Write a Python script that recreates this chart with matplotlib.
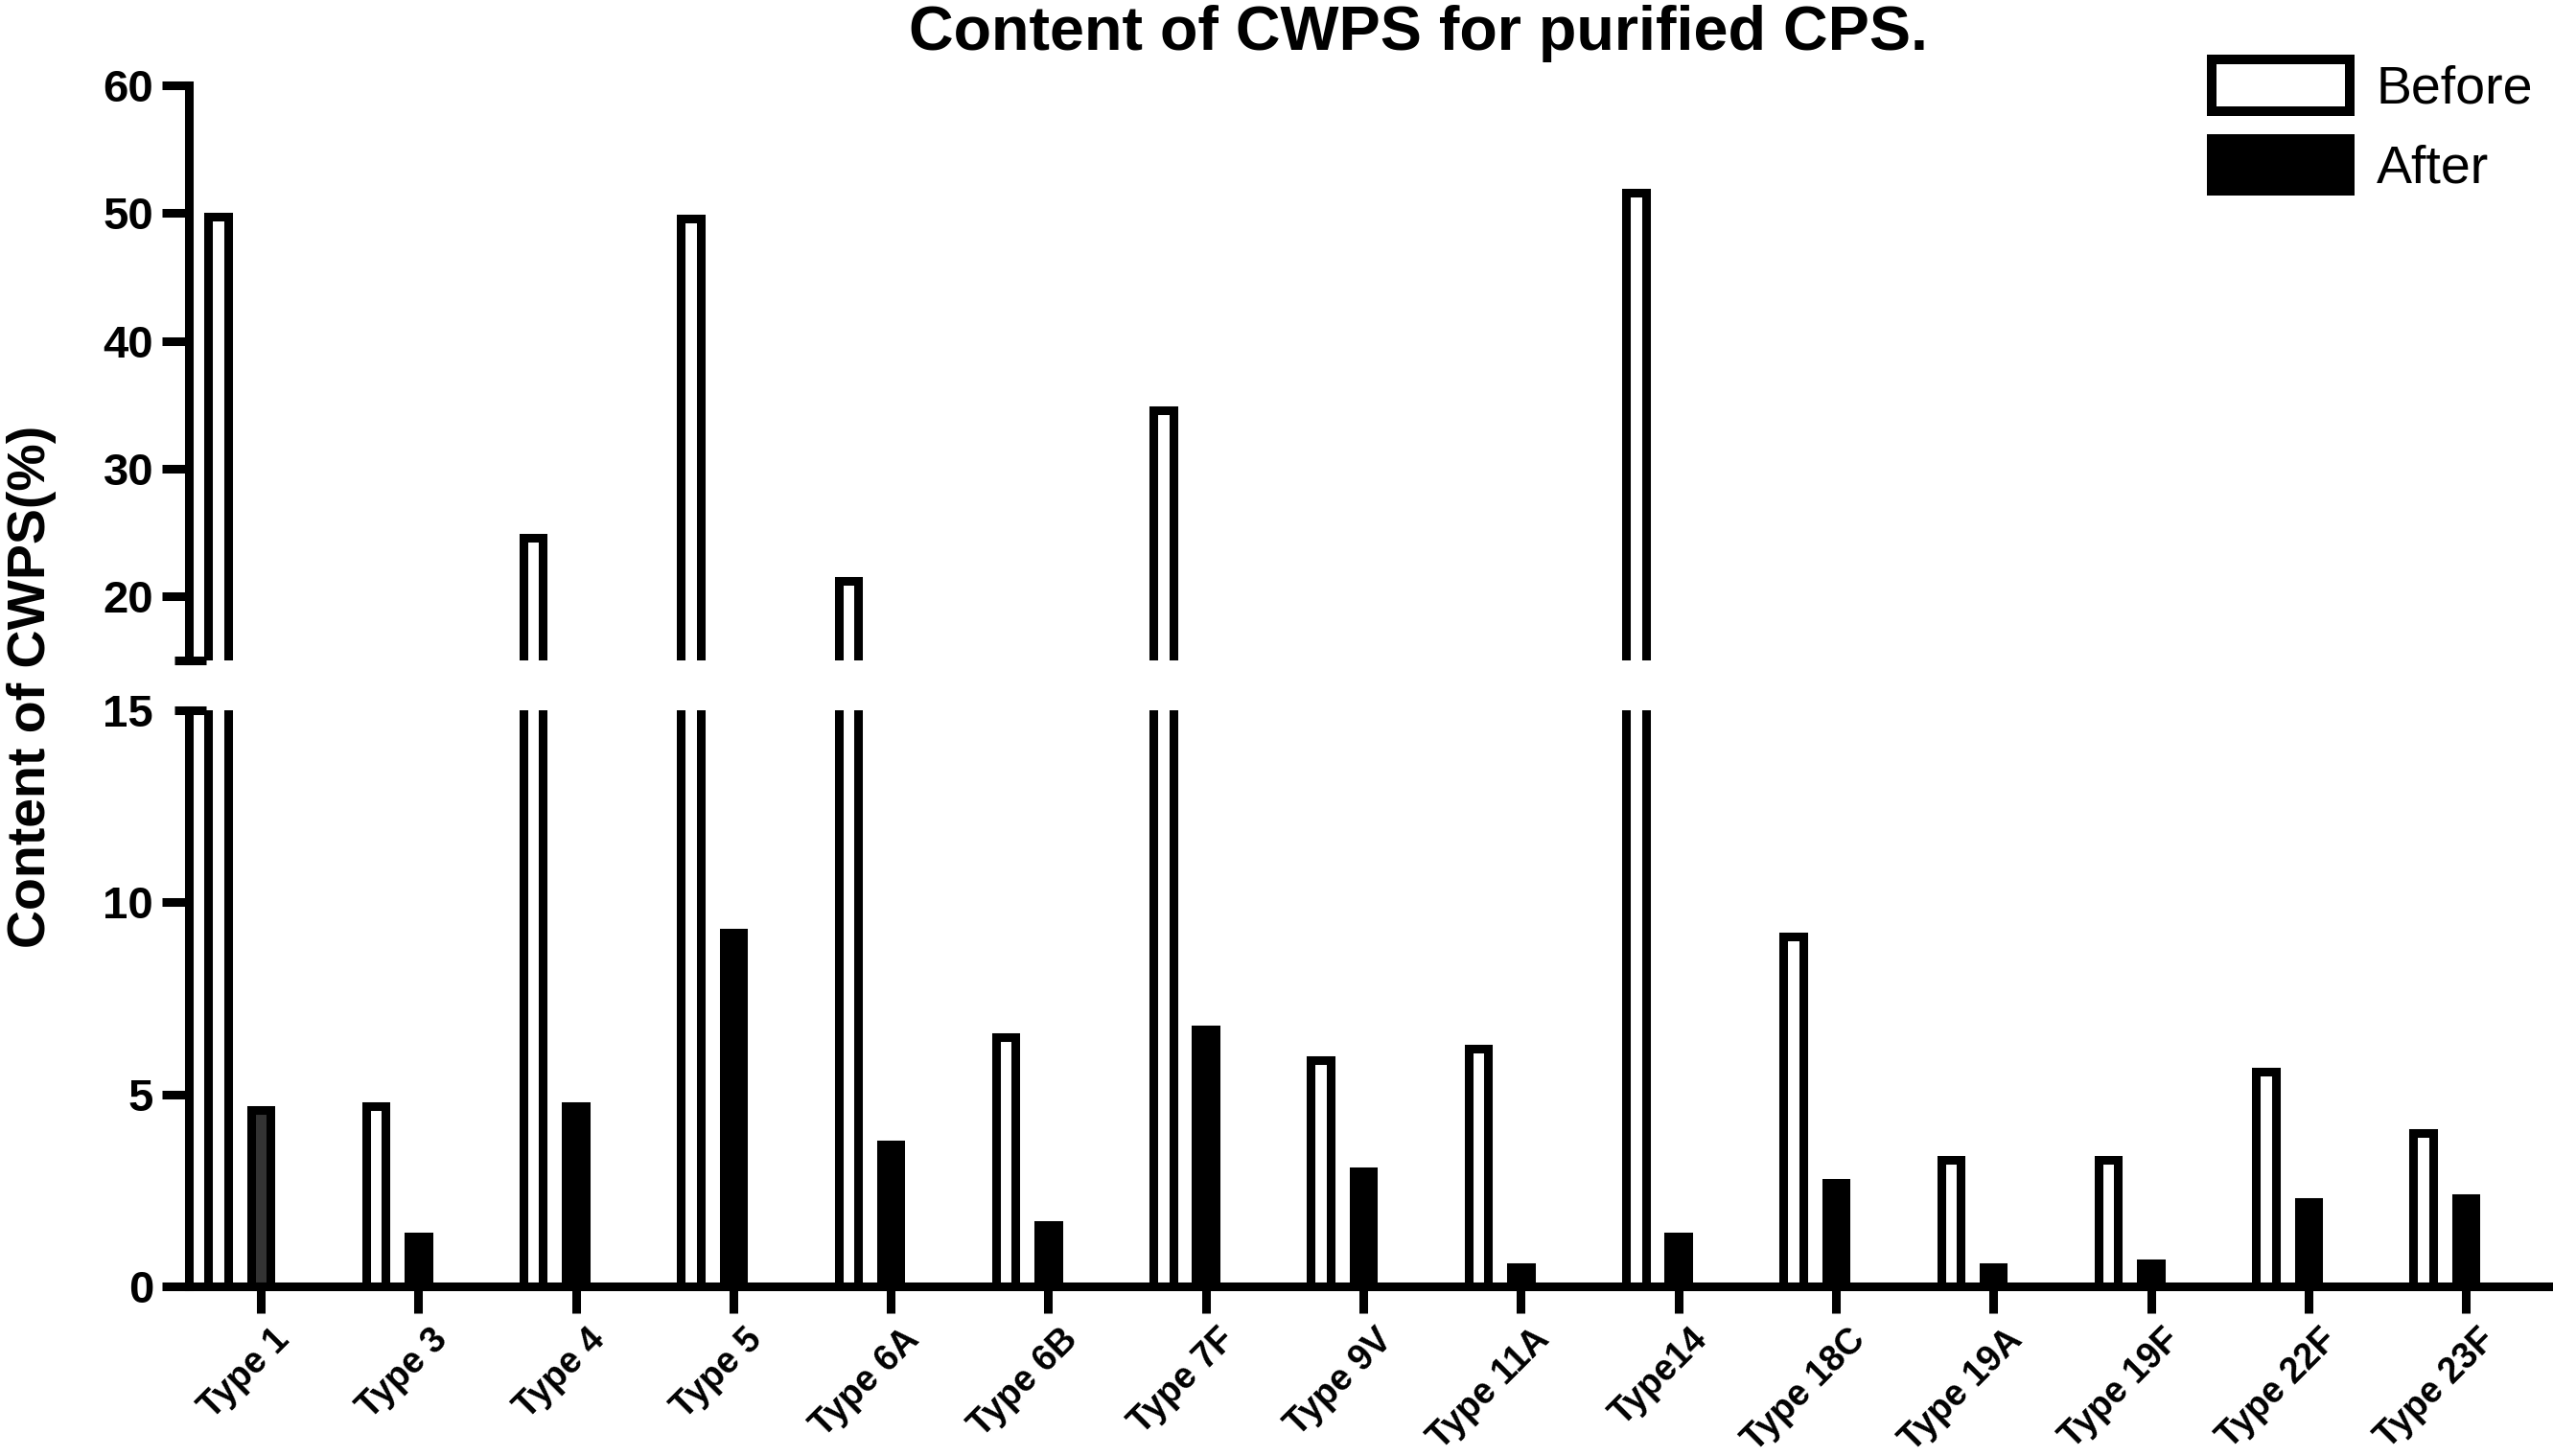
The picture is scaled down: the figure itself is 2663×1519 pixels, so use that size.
import matplotlib
matplotlib.use("Agg")
import matplotlib.pyplot as plt
import matplotlib.patches as mpatches
from matplotlib.transforms import ScaledTranslation
import numpy as np

plt.rcParams['font.family'] = ['Liberation Sans', 'DejaVu Sans']

# data
types = ["Type 1", "Type 3", "Type 4", "Type 5", "Type 6A", "Type 6B", "Type 7F",
         "Type 9V", "Type 11A", "Type14", "Type 18C", "Type 19A", "Type 19F",
         "Type 22F", "Type 23F"]
before = [49.7, 4.7, 24.6, 49.6, 21.2, 6.5, 34.6, 5.9, 6.2, 51.6, 9.1, 3.3, 3.3, 5.6, 4.0]
after = [4.6, 1.3, 4.7, 9.2, 3.7, 1.6, 6.7, 3.0, 0.5, 1.3, 2.7, 0.5, 0.6, 2.2, 2.3]
low_ticks = [0, 5, 10, 15]
high_ticks = [20, 30, 40, 50, 60]

W, H = 2663, 1519
fig = plt.figure(figsize=(W / 100, H / 100), dpi=100)

# broken y axis: two stacked axes
ax_lo = fig.add_axes([197 / W, (H - 1342) / H, (2660 - 197) / W, (1342 - 741) / H])
ax_hi = fig.add_axes([197 / W, (H - 689) / H, (2660 - 197) / W, (689 - 89) / H])

x = np.arange(len(types))
lw = 6.5
bw = 0.125
off = 0.27

for ax in (ax_lo, ax_hi):
    ax.bar(x - off, before, bw, facecolor="white", edgecolor="black", linewidth=lw)
    bars = ax.bar(x, after, bw, facecolor="black", edgecolor="black", linewidth=lw)
    bars[0].set_facecolor("#333333")
    ax.set_xlim(-0.4565, 14.535)
    for s in ("top", "right"):
        ax.spines[s].set_visible(False)
    for s in ("left", "bottom"):
        ax.spines[s].set_linewidth(lw)
    ax.tick_params(axis="both", direction="out", length=20, width=lw, pad=6.5,
                   labelsize=34)

ax_lo.set_ylim(0, 15)
ax_lo.set_yticks(low_ticks)
ax_lo.set_yticklabels([str(t) for t in low_ticks], fontweight="bold", fontsize=34)
ax_lo.yaxis.get_major_ticks()[-1].tick1line.set_visible(False)

ax_hi.set_ylim(15, 60)
ax_hi.set_yticks(high_ticks)
ax_hi.set_yticklabels([str(t) for t in high_ticks], fontweight="bold", fontsize=34)
ax_hi.spines["bottom"].set_visible(False)
ax_hi.set_xticks([])

# break marks
ax_hi.plot([-15 / 2463, 18 / 2463], [0, 0], transform=ax_hi.transAxes,
           color="black", lw=lw, clip_on=False, solid_capstyle="butt")
ax_lo.plot([-15 / 2463, 18 / 2463], [1, 1], transform=ax_lo.transAxes,
           color="black", lw=lw, clip_on=False, solid_capstyle="butt")

ax_lo.set_xticks(x)
ax_lo.set_xticklabels(types, rotation=45, ha="right", va="top",
                      rotation_mode="anchor", fontsize=27, fontweight="bold")
ax_lo.tick_params(axis="x", pad=7)
shift = ScaledTranslation(12 / 100, 0, fig.dpi_scale_trans)
for lab in ax_lo.get_xticklabels():
    lab.set_transform(lab.get_transform() + shift)

fig.text(1480 / W, 1 - 52 / H, "Content of CWPS for purified CPS.", ha="center",
         va="baseline", fontsize=46.5, fontweight="bold")
fig.text(33 / W, 1 - 716 / H, "Content of CWPS(%)", rotation=90, ha="center",
         va="center", fontsize=40, fontweight="bold")

handles = [mpatches.Patch(facecolor="white", edgecolor="black", linewidth=7.2),
           mpatches.Patch(facecolor="black", edgecolor="black", linewidth=7.2)]
fig.legend(handles, ["Before", "After"], loc="upper left",
           bbox_to_anchor=(2307 / W, 1 - 62 / H), frameon=False, fontsize=40,
           handlelength=2.59, handleheight=1.12, labelspacing=0.45,
           handletextpad=0.5, borderpad=0, borderaxespad=0)

fig.savefig("out.png", dpi=100)
